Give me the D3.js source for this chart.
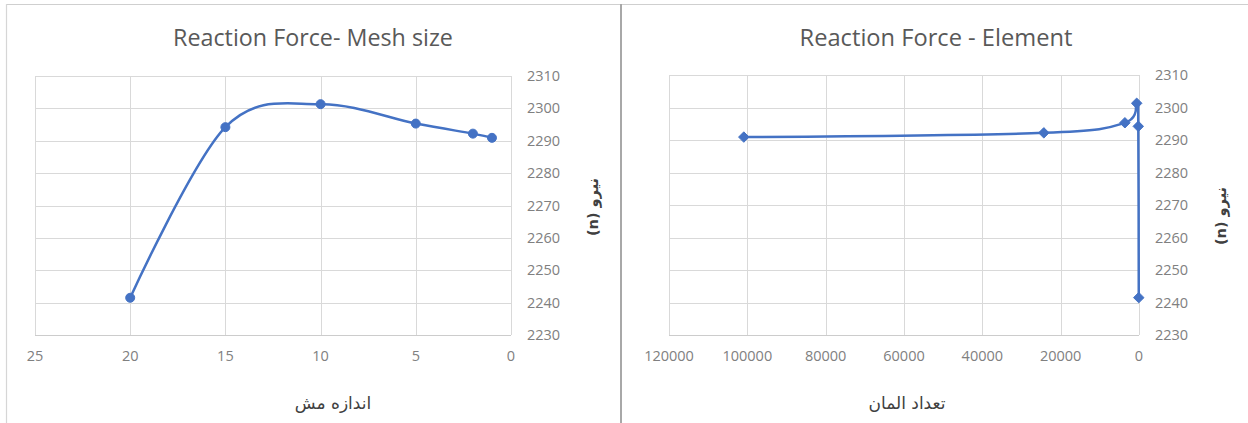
<!DOCTYPE html>
<html>
<head>
<meta charset="utf-8">
<script src="https://cdn.jsdelivr.net/npm/d3@7"></script>
<style>
  html, body { margin: 0; padding: 0; background: #fff; }
  svg { display: block; }
</style>
</head>
<body>
<svg id="chart" width="1248" height="423"></svg>
<script>
// ---- Data ----
const meshSize = [20, 15, 10, 5, 2, 1];
const elementCount = [60, 180, 590, 3600, 24300, 100900];
const reactionForce = [2241.5, 2294.2, 2301.3, 2295.3, 2292.2, 2290.9];

const meshTicks = [25, 20, 15, 10, 5, 0];
const elementTicks = [120000, 100000, 80000, 60000, 40000, 20000, 0];
const forceTicks = [2230, 2240, 2250, 2260, 2270, 2280, 2290, 2300, 2310];

const titles = ["Reaction Force- Mesh size", "Reaction Force - Element"];
const xTitles = ["اندازه مش", "تعداد المان"];
const yTitle = "(n) نیرو";

// ---- Drawing ----
const svg = d3.select("#chart");
const blue = "#4472C4";
const grid = "#d9d9d9";
const tickColor = "#808080";
const latin = "'Open Sans', Lato, sans-serif";
const arabic = "'DejaVu Sans', 'Noto Sans', sans-serif";

// frame lines
svg.append("line").attr("x1", 6).attr("x2", 1248).attr("y1", 4.5).attr("y2", 4.5)
  .attr("stroke", "#cfcfcf").attr("stroke-width", 1.2);
svg.append("line").attr("x1", 6.5).attr("x2", 6.5).attr("y1", 4).attr("y2", 423)
  .attr("stroke", "#d6d6d6").attr("stroke-width", 1.2);
svg.append("line").attr("x1", 621).attr("x2", 621).attr("y1", 4).attr("y2", 423)
  .attr("stroke", "#a8a8a8").attr("stroke-width", 2);

function fitText(sel, targetWidth, baseSize) {
  const w = sel.node().getComputedTextLength();
  if (w > 0) sel.attr("font-size", baseSize * targetWidth / w);
}

function drawChart(cfg) {
  const g = svg.append("g");
  const x = d3.scaleLinear().domain(cfg.xDomain).range([cfg.left, cfg.right]);
  const y = d3.scaleLinear().domain([2230, 2310]).range([cfg.bottom, cfg.top]);

  // gridlines
  g.append("g").selectAll("line").data(forceTicks).join("line")
    .attr("x1", cfg.left).attr("x2", cfg.right)
    .attr("y1", d => Math.round(y(d)) + 0.5).attr("y2", d => Math.round(y(d)) + 0.5)
    .attr("stroke", grid).attr("stroke-width", 1);
  g.append("g").selectAll("line").data(cfg.xTicks).join("line")
    .attr("x1", d => Math.round(x(d)) + 0.5).attr("x2", d => Math.round(x(d)) + 0.5)
    .attr("y1", cfg.top).attr("y2", cfg.bottom)
    .attr("stroke", grid).attr("stroke-width", 1);
  g.append("line").attr("x1", cfg.left).attr("x2", cfg.right)
    .attr("y1", Math.round(y(2230)) + 0.5).attr("y2", Math.round(y(2230)) + 0.5)
    .attr("stroke", "#cccccc");

  // x tick labels
  g.append("g").selectAll("text").data(cfg.xTicks).join("text")
    .attr("x", d => x(d)).attr("y", 361)
    .attr("text-anchor", "middle")
    .attr("font-family", latin).attr("font-size", 14.5).attr("fill", tickColor)
    .text(d => d);
  // y tick labels (right side)
  g.append("g").selectAll("text").data(forceTicks).join("text")
    .attr("x", cfg.right + 16).attr("y", d => y(d) + 5)
    .attr("text-anchor", "start")
    .attr("font-family", latin).attr("font-size", 14.5).attr("fill", tickColor)
    .text(d => d);

  // title
  const t = g.append("text").attr("x", cfg.titleX).attr("y", 46)
    .attr("text-anchor", "middle")
    .attr("font-family", latin).attr("font-size", 20).attr("fill", "#595959")
    .text(cfg.title);
  fitText(t, cfg.titleW, 20);

  // x axis title
  g.append("text").attr("x", cfg.xTitleX).attr("y", 409)
    .attr("text-anchor", "middle")
    .attr("font-family", arabic).attr("font-size", 17).attr("fill", "#404040")
    .text(cfg.xTitle);

  // y axis title (rotated)
  g.append("text")
    .attr("transform", `translate(${cfg.right + 87},${cfg.yTitleY}) rotate(-90)`)
    .attr("text-anchor", "middle")
    .attr("font-family", arabic).attr("font-size", 14.5).attr("font-weight", "bold")
    .attr("fill", "#404040")
    .text(yTitle);

  // series
  const pts = cfg.xs.map((v, i) => [x(v), y(reactionForce[i])]);
  g.append("path").datum(pts)
    .attr("d", d3.line().curve(d3.curveCatmullRom.alpha(0)))
    .attr("fill", "none").attr("stroke", blue).attr("stroke-width", 2.5)
    .attr("stroke-linejoin", "round");

  if (cfg.marker === "circle") {
    g.append("g").selectAll("circle").data(pts).join("circle")
      .attr("cx", d => d[0]).attr("cy", d => d[1]).attr("r", 4.5)
      .attr("fill", blue).attr("stroke", blue).attr("stroke-width", 1);
  } else {
    const sym = d3.symbol().type(d3.symbolDiamond2).size(70);
    g.append("g").selectAll("path").data(pts).join("path")
      .attr("transform", d => `translate(${d[0]},${d[1]})`)
      .attr("d", sym).attr("fill", blue).attr("stroke", blue).attr("stroke-width", 1);
  }
}

drawChart({
  xDomain: [25, 0], xTicks: meshTicks, xs: meshSize,
  left: 35, right: 511, top: 76, bottom: 335,
  title: titles[0], titleX: 313, titleW: 280, xTitle: xTitles[0], xTitleX: 333, yTitleY: 207,
  marker: "circle"
});
drawChart({
  xDomain: [120000, 0], xTicks: elementTicks, xs: elementCount,
  left: 669, right: 1139, top: 75, bottom: 335,
  title: titles[1], titleX: 936, titleW: 273, xTitle: xTitles[1], xTitleX: 907, yTitleY: 216,
  marker: "diamond"
});
</script>
</body>
</html>
